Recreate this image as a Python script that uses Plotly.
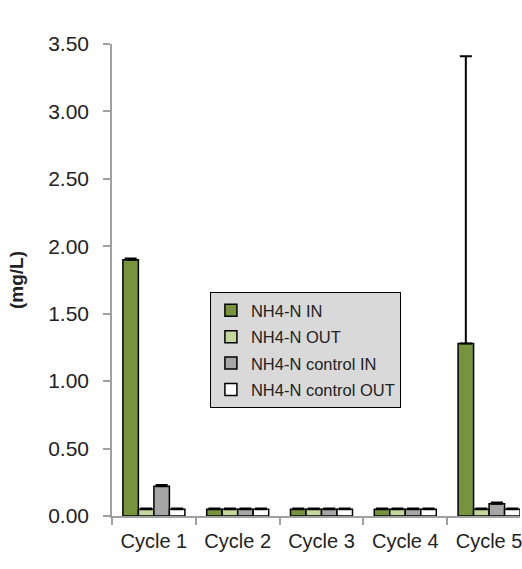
import plotly.graph_objects as go

categories = ["Cycle 1", "Cycle 2", "Cycle 3", "Cycle 4", "Cycle 5"]
series_names = ["NH4-N IN", "NH4-N OUT", "NH4-N control IN", "NH4-N control OUT"]
nh4_in = [1.90, 0.05, 0.05, 0.05, 1.28]
nh4_out = [0.05, 0.05, 0.05, 0.05, 0.05]
ctrl_in = [0.22, 0.05, 0.05, 0.05, 0.09]
ctrl_out = [0.05, 0.05, 0.05, 0.05, 0.05]
err_in = [0.01, 0.005, 0.005, 0.005, 2.13]
err_out = [0.005, 0.005, 0.005, 0.005, 0.005]
err_ctrl_in = [0.01, 0.005, 0.005, 0.005, 0.01]
err_ctrl_out = [0.005, 0.005, 0.005, 0.005, 0.005]
colors = ["#77933C", "#C3D69B", "#A6A6A6", "#FFFFFF"]

values = [nh4_in, nh4_out, ctrl_in, ctrl_out]
errors = [err_in, err_out, err_ctrl_in, err_ctrl_out]

fig = go.Figure()
for i, (name, vals, errs, col) in enumerate(zip(series_names, values, errors, colors)):
    fig.add_trace(go.Bar(
        x=categories, y=vals, name=name, legendgroup=name,
        marker=dict(color=col, line=dict(color="black", width=1.5)),
        error_y=dict(type="data", array=errs, symmetric=False,
                     arrayminus=[0] * len(errs),
                     color="black", thickness=2, width=6),
    ))

fig.update_layout(
    width=522, height=569,
    margin=dict(l=112, r=0, t=44, b=53),
    plot_bgcolor="white", paper_bgcolor="white",
    barmode="group", bargap=0.26, bargroupgap=0,
    font=dict(family="Liberation Sans", color="#222222"),
    showlegend=True,
    legend=dict(
        x=0.24, y=0.4746, xanchor="left", yanchor="top",
        bgcolor="#D9D9D9", bordercolor="black", borderwidth=1,
        font=dict(size=16.5, color="#222222"),
        tracegroupgap=2, itemwidth=30,
    ),
    xaxis=dict(
        type="category", range=[-0.5, 4.369],
        showline=True, linecolor="#A0A0A0", linewidth=1.5,
        ticks="outside", tickson="boundaries", ticklen=7,
        tickcolor="#A0A0A0", tickwidth=1.5,
        tickfont=dict(size=20), showgrid=False,
        ticklabelstandoff=6,
    ),
    yaxis=dict(
        range=[0, 3.5], dtick=0.5, tickformat=".2f",
        showline=True, linecolor="#A0A0A0", linewidth=1.5,
        ticks="outside", ticklen=7, tickcolor="#A0A0A0", tickwidth=1.5,
        tickfont=dict(size=21), showgrid=False, zeroline=False,
        ticklabelstandoff=10,
        title=dict(text="<b>(mg/L)</b>", font=dict(size=19), standoff=20),
    ),
)

fig.write_html("out.html")
